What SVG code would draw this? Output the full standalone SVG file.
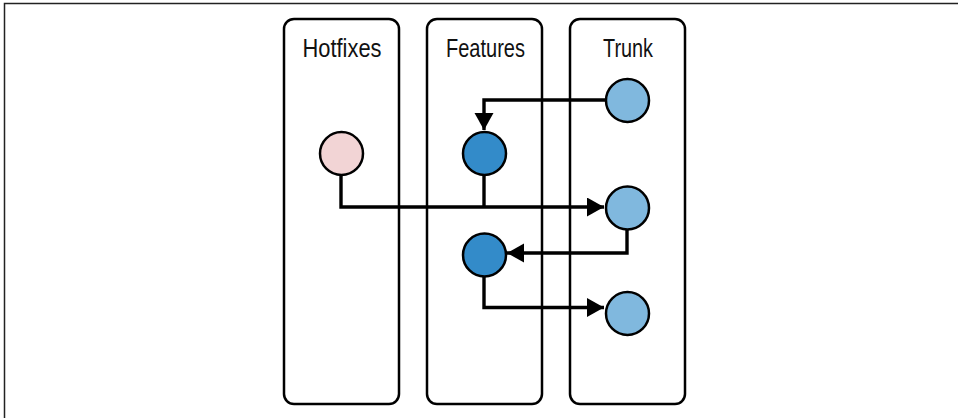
<svg xmlns="http://www.w3.org/2000/svg" width="958" height="418" viewBox="0 0 958 418">
<style>
.lane{fill:#fff;stroke:#000;stroke-width:2.5}
.lbl{font-family:"Liberation Sans",Arial,sans-serif;font-size:25px;fill:#111;text-anchor:middle}
.trunk{fill:#80b8de;stroke:#000;stroke-width:2.5}
.feat{fill:#338bc9;stroke:#000;stroke-width:2.5}
.hot{fill:#f2d4d5;stroke:#000;stroke-width:2.5}
.con{fill:none;stroke:#000;stroke-width:3.4;stroke-linejoin:miter}
</style>
<defs>
<marker id="ah" markerUnits="userSpaceOnUse" markerWidth="20" markerHeight="20" refX="17" refY="9.5" orient="auto">
<path d="M0,0 L17,9.5 L0,19 Z" fill="#000"/>
</marker>
</defs>
<rect width="958" height="418" fill="#fff"/>
<path d="M4.5 418 V3.5 H958" fill="none" stroke="#222" stroke-width="1.5"/>
<g id="lane-hotfixes">
<rect class="lane" x="284" y="19" width="115" height="385" rx="10"/>
<text class="lbl" x="342" y="57" textLength="79" lengthAdjust="spacingAndGlyphs">Hotfixes</text>
</g>
<g id="lane-features">
<rect class="lane" x="427" y="19" width="115" height="385" rx="10"/>
<text class="lbl" x="485.5" y="57" textLength="79" lengthAdjust="spacingAndGlyphs">Features</text>
</g>
<g id="lane-trunk">
<rect class="lane" x="570" y="19" width="115" height="385" rx="10"/>
<text class="lbl" x="628" y="57" textLength="50" lengthAdjust="spacingAndGlyphs">Trunk</text>
</g>
<g id="connectors">
<path class="con" d="M605 100 H484 V130" marker-end="url(#ah)"/>
<path class="con" d="M341 176 V207 H604" marker-end="url(#ah)"/>
<path class="con" d="M484 176 V207"/>
<path class="con" d="M627 230 V253 H507" marker-end="url(#ah)"/>
<path class="con" d="M484 277 V307.5 H604" marker-end="url(#ah)"/>
</g>
<g id="trunk-1"><circle class="trunk" cx="627.5" cy="100.5" r="21.5"/></g>
<g id="hotfix-1"><circle class="hot" cx="341.5" cy="153.5" r="21.5"/></g>
<g id="feature-1"><circle class="feat" cx="484.5" cy="153.5" r="21.5"/></g>
<g id="trunk-2"><circle class="trunk" cx="627.5" cy="208" r="21.5"/></g>
<g id="feature-2"><circle class="feat" cx="484.5" cy="255" r="21.5"/></g>
<g id="trunk-3"><circle class="trunk" cx="627.5" cy="313.5" r="21.5"/></g>
</svg>
